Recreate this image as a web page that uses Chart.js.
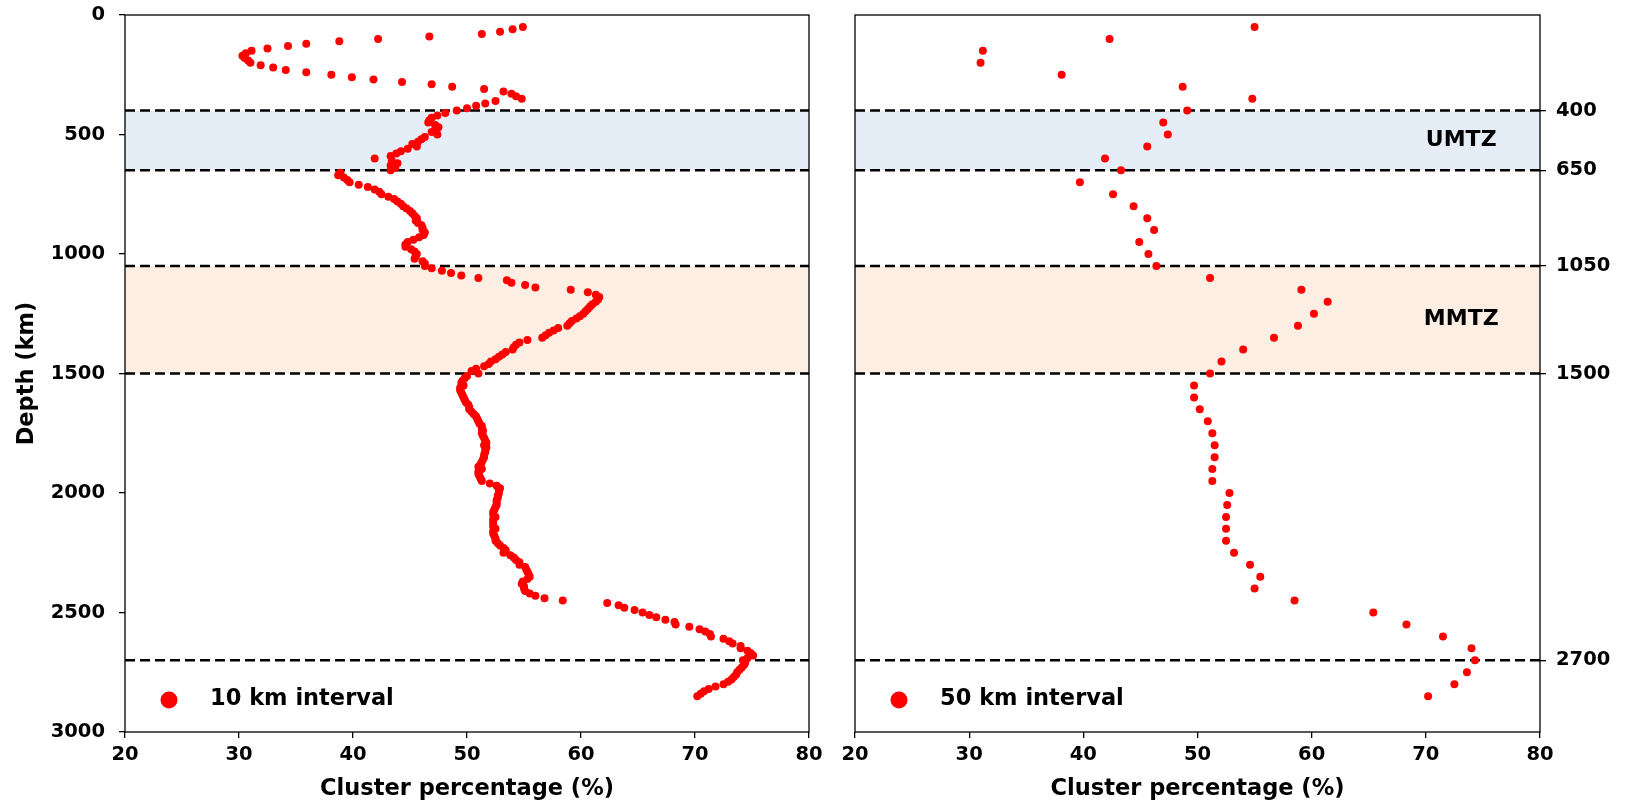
<!DOCTYPE html>
<html>
<head>
<meta charset="utf-8">
<script src="https://cdn.jsdelivr.net/npm/chart.js@4.4.1/dist/chart.umd.min.js"></script>
<style>
  body { margin: 0; background: #fff; }
  canvas { position: absolute; top: 0; }
  #left { left: 0; }
  #right { left: 830px; }
</style>
</head>
<body>
<canvas id="left" width="830" height="804"></canvas>
<canvas id="right" width="801" height="804"></canvas>
<script>
// depth (km) sampled every 10 km
const depth10 = [
  50, 60, 70, 80, 90, 100, 110, 120, 130, 140,
  150, 160, 170, 180, 190, 200, 210, 220, 230, 240,
  250, 260, 270, 280, 290, 300, 310, 320, 330, 340,
  350, 360, 370, 380, 390, 400, 410, 420, 430, 440,
  450, 460, 470, 480, 490, 500, 510, 520, 530, 540,
  550, 560, 570, 580, 590, 600, 610, 620, 630, 640,
  650, 660, 670, 680, 690, 700, 710, 720, 730, 740,
  750, 760, 770, 780, 790, 800, 810, 820, 830, 840,
  850, 860, 870, 880, 890, 900, 910, 920, 930, 940,
  950, 960, 970, 980, 990, 1000, 1010, 1020, 1030, 1040,
  1050, 1060, 1070, 1080, 1090, 1100, 1110, 1120, 1130, 1140,
  1150, 1160, 1170, 1180, 1190, 1200, 1210, 1220, 1230, 1240,
  1250, 1260, 1270, 1280, 1290, 1300, 1310, 1320, 1330, 1340,
  1350, 1360, 1370, 1380, 1390, 1400, 1410, 1420, 1430, 1440,
  1450, 1460, 1470, 1480, 1490, 1500, 1510, 1520, 1530, 1540,
  1550, 1560, 1570, 1580, 1590, 1600, 1610, 1620, 1630, 1640,
  1650, 1660, 1670, 1680, 1690, 1700, 1710, 1720, 1730, 1740,
  1750, 1760, 1770, 1780, 1790, 1800, 1810, 1820, 1830, 1840,
  1850, 1860, 1870, 1880, 1890, 1900, 1910, 1920, 1930, 1940,
  1950, 1960, 1970, 1980, 1990, 2000, 2010, 2020, 2030, 2040,
  2050, 2060, 2070, 2080, 2090, 2100, 2110, 2120, 2130, 2140,
  2150, 2160, 2170, 2180, 2190, 2200, 2210, 2220, 2230, 2240,
  2250, 2260, 2270, 2280, 2290, 2300, 2310, 2320, 2330, 2340,
  2350, 2360, 2370, 2380, 2390, 2400, 2410, 2420, 2430, 2440,
  2450, 2460, 2470, 2480, 2490, 2500, 2510, 2520, 2530, 2540,
  2550, 2560, 2570, 2580, 2590, 2600, 2610, 2620, 2630, 2640,
  2650, 2660, 2670, 2680, 2690, 2700, 2710, 2720, 2730, 2740,
  2750, 2760, 2770, 2780, 2790, 2800, 2810, 2820, 2830, 2840,
  2850
];
// cluster percentage (%) for each 10 km depth
const pct10 = [
  54.9, 54.0, 52.9, 51.3, 46.7, 42.2, 38.8, 35.9, 34.3, 32.5,
  31.1, 30.6, 30.3, 30.5, 30.8, 31.0, 31.9, 33.0, 34.1, 35.9,
  38.1, 39.9, 41.8, 44.3, 46.9, 48.7, 51.5, 53.2, 53.9, 54.3,
  54.8, 52.5, 51.6, 50.8, 50.0, 49.1, 48.1, 47.4, 46.9, 46.7,
  46.6, 47.2, 47.5, 47.2, 46.9, 47.4, 46.3, 46.0, 45.7, 45.2,
  45.6, 44.8, 44.2, 43.8, 43.3, 41.9, 43.4, 43.9, 43.3, 43.7,
  43.3, 38.9, 38.7, 39.2, 39.5, 39.7, 40.5, 41.3, 41.9, 42.3,
  42.5, 43.1, 43.6, 43.9, 44.2, 44.4, 44.7, 45.0, 45.2, 45.4,
  45.6, 45.5, 45.7, 46.0, 46.1, 46.1, 46.3, 46.2, 45.8, 45.3,
  44.8, 44.6, 44.6, 45.1, 45.4, 45.6, 45.5, 45.4, 46.1, 46.3,
  46.3, 46.9, 47.8, 48.6, 49.5, 51.0, 53.5, 53.9, 55.1, 56.0,
  59.1, 60.6, 61.3, 61.6, 61.5, 61.3, 61.0, 60.8, 60.6, 60.4,
  60.2, 59.9, 59.6, 59.2, 59.0, 58.8, 58.0, 57.6, 57.2, 56.9,
  56.6, 55.3, 54.6, 54.3, 54.1, 54.0, 53.4, 53.1, 52.8, 52.5,
  52.1, 51.9, 51.5, 50.8, 50.4, 51.0, 50.0, 49.8, 49.6, 49.5,
  49.7, 49.4, 49.4, 49.5, 49.6, 49.7, 49.8, 49.9, 50.1, 50.2,
  50.2, 50.4, 50.6, 50.8, 50.9, 51.0, 51.1, 51.3, 51.3, 51.4,
  51.3, 51.4, 51.5, 51.6, 51.7, 51.5, 51.7, 51.6, 51.6, 51.5,
  51.5, 51.4, 51.3, 51.2, 51.0, 51.3, 51.0, 51.0, 51.1, 51.2,
  51.3, 52.0, 52.6, 52.9, 52.8, 52.8, 52.7, 52.7, 52.6, 52.6,
  52.6, 52.5, 52.4, 52.3, 52.3, 52.5, 52.3, 52.3, 52.3, 52.3,
  52.5, 52.3, 52.3, 52.4, 52.5, 52.5, 52.7, 52.9, 53.2, 53.4,
  53.2, 53.8, 54.1, 54.3, 54.6, 54.6, 55.1, 55.2, 55.3, 55.4,
  55.5, 55.3, 54.9, 54.8, 55.0, 55.0, 55.1, 55.5, 56.0, 56.8,
  58.4, 62.3, 63.3, 63.8, 64.7, 65.4, 66.0, 66.6, 67.4, 68.2,
  68.3, 69.5, 70.4, 70.9, 71.3, 71.4, 72.5, 73.0, 73.3, 74.0,
  74.0, 74.6, 74.9, 75.1, 74.6, 74.2, 74.4, 74.3, 74.1, 73.9,
  73.7, 73.6, 73.4, 73.2, 72.9, 72.5, 71.8, 71.2, 70.8, 70.5,
  70.2
];
// depth (km) sampled every 50 km
const depth50 = [
  50, 100, 150, 200, 250, 300, 350, 400, 450, 500,
  550, 600, 650, 700, 750, 800, 850, 900, 950, 1000,
  1050, 1100, 1150, 1200, 1250, 1300, 1350, 1400, 1450, 1500,
  1550, 1600, 1650, 1700, 1750, 1800, 1850, 1900, 1950, 2000,
  2050, 2100, 2150, 2200, 2250, 2300, 2350, 2400, 2450, 2500,
  2550, 2600, 2650, 2700, 2750, 2800, 2850
];
const pct50 = [
  55.0, 42.3, 31.2, 31.0, 38.1, 48.7, 54.8, 49.1, 47.0, 47.4,
  45.6, 41.9, 43.3, 39.7, 42.6, 44.4, 45.6, 46.2, 44.9, 45.7,
  46.4, 51.1, 59.1, 61.4, 60.2, 58.8, 56.7, 54.0, 52.1, 51.1,
  49.7, 49.7, 50.2, 50.9, 51.3, 51.5, 51.5, 51.3, 51.3, 52.8,
  52.6, 52.5, 52.5, 52.5, 53.2, 54.6, 55.5, 55.0, 58.5, 65.4,
  68.3, 71.5, 74.0, 74.3, 73.6, 72.5, 70.2
];

// discontinuity depths and transition zones
const boundaries = [400, 650, 1050, 1500, 2700];
const zoneNames = ["UMTZ", "MMTZ"];
const zoneTop = [400, 1050];
const zoneBottom = [650, 1500];
const zoneColors = ["#e5eef7", "#fdeee3"];

const fontFamily = "'DejaVu Sans', sans-serif";
const tickFont = { family: fontFamily, size: 19.5, weight: "bold" };
const titleFont = { family: fontFamily, size: 22.5, weight: "bold" };

const zonas = {
  id: "zonas",
  beforeDatasetsDraw(chart, args, opts) {
    const { ctx, chartArea: a, scales: { x, y } } = chart;
    ctx.save();
    zoneTop.forEach((d, i) => {
      const y0 = y.getPixelForValue(d);
      const y1 = y.getPixelForValue(zoneBottom[i]);
      ctx.fillStyle = zoneColors[i];
      ctx.fillRect(a.left, y0, a.right - a.left, y1 - y0);
    });
    ctx.setLineDash([10, 5]);
    ctx.lineWidth = 2.5;
    ctx.strokeStyle = "#000";
    boundaries.forEach(d => {
      const py = y.getPixelForValue(d);
      ctx.beginPath();
      ctx.moveTo(a.left, py);
      ctx.lineTo(a.right, py);
      ctx.stroke();
    });
    if (opts.labels) {
      ctx.fillStyle = "#000";
      ctx.font = "bold 22px " + fontFamily;
      ctx.textAlign = "center";
      ctx.textBaseline = "middle";
      zoneNames.forEach((n, i) => {
        ctx.fillText(n, x.getPixelForValue(73.1), y.getPixelForValue((zoneTop[i] + zoneBottom[i]) / 2));
      });
    }
    ctx.restore();
  },
  afterDraw(chart) {
    const { ctx, chartArea: a } = chart;
    ctx.save();
    ctx.strokeStyle = "#000";
    ctx.lineWidth = 1.3;
    ctx.strokeRect(a.left, a.top, a.right - a.left, a.bottom - a.top);
    // legend in the lower left corner
    const ds = chart.data.datasets[0];
    ctx.fillStyle = ds.backgroundColor;
    ctx.beginPath();
    ctx.arc(a.left + 44, a.bottom - 32, 8.5, 0, Math.PI * 2);
    ctx.fill();
    ctx.fillStyle = "#000";
    ctx.font = "bold 22.5px " + fontFamily;
    ctx.textAlign = "left";
    ctx.textBaseline = "middle";
    ctx.fillText(ds.label, a.left + 85, a.bottom - 33);
    ctx.restore();
  }
};

function xAxis() {
  return {
    type: "linear",
    min: 20,
    max: 80,
    ticks: { stepSize: 10, color: "#000", font: tickFont, padding: 5 },
    grid: { drawOnChartArea: false, color: "#000", lineWidth: 1.3, tickLength: 6 },
    border: { display: false },
    title: { display: true, text: "Cluster percentage (%)", color: "#000", font: titleFont, padding: { top: 2, bottom: 1 } },
    afterFit: s => { s.height = 72; s.paddingLeft = 0; s.paddingRight = 0; }
  };
}

function scatter(canvas, label, xs, ys, yAxis, padding, zoneLabels) {
  return new Chart(canvas, {
    type: "scatter",
    data: {
      datasets: [{
        label: label,
        data: xs.map((v, i) => ({ x: v, y: ys[i] })),
        backgroundColor: "#ff0000",
        borderWidth: 0,
        pointRadius: 4,
        pointHoverRadius: 4
      }]
    },
    options: {
      responsive: false,
      animation: false,
      devicePixelRatio: 1,
      layout: { padding: padding },
      plugins: { legend: { display: false }, tooltip: { enabled: false }, zonas: { labels: zoneLabels } },
      scales: { x: xAxis(), y: yAxis }
    },
    plugins: [zonas]
  });
}

scatter(document.getElementById("left"), "10 km interval", pct10, depth10, {
  type: "linear",
  reverse: true,
  min: 0,
  max: 3000,
  ticks: { stepSize: 500, color: "#000", font: tickFont, padding: 14, callback: v => String(v) },
  grid: { drawOnChartArea: false, color: "#000", lineWidth: 1.3, tickLength: 6 },
  border: { display: false },
  title: { display: true, text: "Depth (km)", color: "#000", font: titleFont, padding: { top: 14, bottom: 0 } },
  afterFit: s => { s.width = 125; s.paddingTop = 0; s.paddingBottom = 0; }
}, { top: 15, right: 21, left: 0, bottom: 0 }, false);

scatter(document.getElementById("right"), "50 km interval", pct50, depth50, {
  type: "linear",
  position: "right",
  reverse: true,
  min: 0,
  max: 3000,
  afterBuildTicks: s => { s.ticks = boundaries.map(v => ({ value: v })); },
  ticks: { color: "#000", font: tickFont, padding: 10, callback: v => String(v) },
  grid: { drawOnChartArea: false, color: "#000", lineWidth: 1.3, tickLength: 6 },
  border: { display: false },
  afterFit: s => { s.width = 91; s.paddingTop = 0; s.paddingBottom = 0; }
}, { top: 15, right: 0, left: 25, bottom: 0 }, true);
</script>
</body>
</html>
